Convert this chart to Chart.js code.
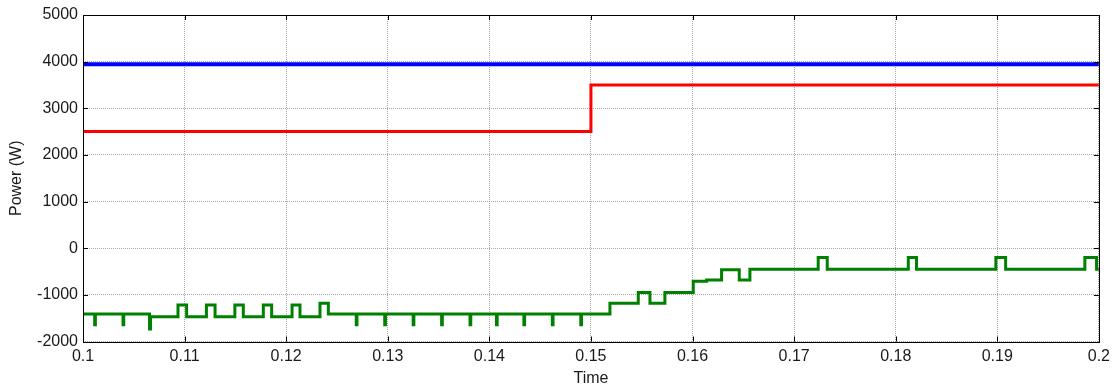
<!DOCTYPE html>
<html>
<head>
<meta charset="utf-8">
<script src="https://cdn.jsdelivr.net/npm/chart.js@4.4.1/dist/chart.umd.min.js"></script>
<style>
  html, body { margin: 0; padding: 0; background: #fff; }
  canvas { display: block; }
</style>
</head>
<body>
<canvas id="c" width="1115" height="390"></canvas>
<script>
// ---- data ----
const xTicks = [0.1, 0.11, 0.12, 0.13, 0.14, 0.15, 0.16, 0.17, 0.18, 0.19, 0.2];
const xTickLabels = ['0.1', '0.11', '0.12', '0.13', '0.14', '0.15', '0.16', '0.17', '0.18', '0.19', '0.2'];
const yTicks = [-2000, -1000, 0, 1000, 2000, 3000, 4000, 5000];
const yTickLabels = ['-2000', '-1000', '0', '1000', '2000', '3000', '4000', '5000'];

// blue series (approx. constant ~3945 W)
const blueTime  = [0.1, 0.2];
const bluePower = [3945, 3945];

// red series: step from 2500 to 3500 at t = 0.15
const redTime  = [0.1, 0.15, 0.2];
const redPower = [2500, 3500, 3500];

// green series: change points (value holds until next time)
const greenTime = [
  0.1, 0.10115, 0.10122, 0.10394, 0.10401, 0.10655, 0.10665,
  0.10935, 0.11020, 0.11215, 0.11300, 0.11495, 0.11578, 0.11775, 0.11857,
  0.12058, 0.12136, 0.12333, 0.12415,
  0.1269, 0.12697, 0.1297, 0.12977, 0.1325, 0.13257, 0.1353, 0.13537,
  0.1381, 0.13817, 0.1407, 0.14077, 0.1434, 0.14347, 0.1462, 0.14627,
  0.1490, 0.14907,
  0.15187, 0.15466, 0.15581, 0.15728, 0.16007, 0.16139, 0.16286, 0.1646, 0.16565,
  0.17237, 0.17326, 0.18124, 0.18205, 0.18986, 0.19082, 0.19862, 0.19977, 0.2
];
const greenPower = [
  -1410, -1640, -1410, -1640, -1410, -1730, -1470,
  -1220, -1470, -1220, -1470, -1220, -1470, -1220, -1470,
  -1220, -1470, -1180, -1410,
  -1640, -1410, -1640, -1410, -1640, -1410, -1640, -1410,
  -1640, -1410, -1640, -1410, -1640, -1410, -1640, -1410,
  -1640, -1410,
  -1180, -950, -1180, -950, -710, -680, -460, -680, -450,
  -200, -450, -200, -450, -200, -450, -200, -450, -450
];

const toXY = (xs, ys) => xs.map((x, i) => ({ x: x, y: ys[i] }));

const FONT = { family: '"Liberation Sans", Arial, sans-serif', size: 16 };
const TEXT = '#1a1a1a';

const frameTicks = {
  id: 'frameTicks',
  afterDatasetsDraw(chart) {
    const { ctx, chartArea: a, scales } = chart;
    ctx.save();
    ctx.strokeStyle = '#000';
    ctx.lineWidth = 1;
    ctx.setLineDash([]);
    ctx.beginPath();
    const L = 5;
    xTicks.forEach(v => {
      const x = Math.round(scales.x.getPixelForValue(v)) + 0.5;
      ctx.moveTo(x, a.bottom); ctx.lineTo(x, a.bottom - L);
      ctx.moveTo(x, a.top); ctx.lineTo(x, a.top + L);
    });
    yTicks.forEach(v => {
      const y = Math.round(scales.y.getPixelForValue(v)) + 0.5;
      ctx.moveTo(a.left, y); ctx.lineTo(a.left + L, y);
      ctx.moveTo(a.right, y); ctx.lineTo(a.right - L, y);
    });
    ctx.stroke();
    ctx.strokeRect(Math.round(a.left) + 0.5, Math.round(a.top) + 0.5,
                   Math.round(a.right - a.left), Math.round(a.bottom - a.top));
    ctx.restore();
  }
};

new Chart(document.getElementById('c'), {
  type: 'line',
  data: {
    datasets: [
      { data: toXY(blueTime, bluePower), borderColor: '#0000ff', borderWidth: 4, pointRadius: 0, stepped: 'before' },
      { data: toXY(redTime, redPower), borderColor: '#ff0000', borderWidth: 3, pointRadius: 0, stepped: 'before' },
      { data: toXY(greenTime, greenPower), borderColor: '#008000', borderWidth: 3, pointRadius: 0, stepped: 'before' }
    ]
  },
  options: {
    responsive: false,
    animation: false,
    devicePixelRatio: 1,
    layout: { padding: { left: 0, right: 16, top: 15, bottom: 0 } },
    plugins: { legend: { display: false }, tooltip: { enabled: false } },
    elements: { line: { borderJoinStyle: 'miter', borderCapStyle: 'butt' } },
    scales: {
      x: {
        type: 'linear', min: 0.1, max: 0.2,
        afterBuildTicks: s => { s.ticks = xTicks.map(v => ({ value: v })); },
        afterFit: s => { s.height = 48.5; },
        ticks: {
          autoSkip: false, maxRotation: 0, padding: 5, color: TEXT, font: FONT,
          callback: (v, i) => xTickLabels[i]
        },
        grid: { color: 'rgba(130,130,130,0.7)', lineWidth: 1, drawTicks: false },
        border: { display: false, dash: [1, 1] },
        title: { display: true, text: 'Time', color: TEXT, font: FONT, padding: { top: 0, bottom: 2 } }
      },
      y: {
        type: 'linear', min: -2000, max: 5000,
        afterBuildTicks: s => { s.ticks = yTicks.map(v => ({ value: v })); },
        afterFit: s => { s.width = 83; },
        ticks: {
          autoSkip: false, padding: 5, color: TEXT, font: FONT,
          callback: (v, i) => yTickLabels[i]
        },
        grid: { color: 'rgba(130,130,130,0.7)', lineWidth: 1, drawTicks: false },
        border: { display: false, dash: [1, 1] },
        title: { display: true, text: 'Power (W)', color: TEXT, font: FONT, padding: { top: 7, bottom: 0 } }
      }
    }
  },
  plugins: [frameTicks]
});
</script>
</body>
</html>
